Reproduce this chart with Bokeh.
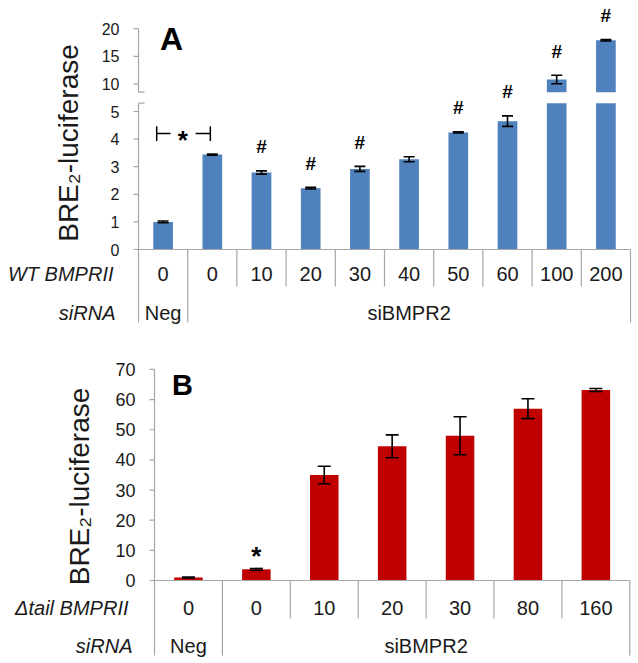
import math
from bokeh.plotting import figure
from bokeh.models import ColumnDataSource, Range1d, Whisker, TeeHead
from bokeh.layouts import column
from bokeh.embed import file_html
from bokeh.resources import INLINE
from bokeh.core.properties import value

FONT = "Liberation Sans"
TXT = "#1a1a1a"
AX = "#a6a6a6"
BLUE = "#4f81bd"
RED = "#c00000"

# ---------------- Panel A data ----------------
A_dose = ["0", "0", "10", "20", "30", "40", "50", "60", "100", "200"]
A_sirna = ["Neg"] + ["siBMPR2"] * 9
A_val = [1.0, 3.44, 2.79, 2.22, 2.92, 3.27, 4.24, 4.65, 10.8, 17.9]
A_err = [0.03, 0.02, 0.06, 0.03, 0.09, 0.09, 0.02, 0.19, 0.76, 0.12]
A_sig = ["", "", "#", "#", "#", "", "#", "#", "#", "#"]
A_low_ticks = [0, 1, 2, 3, 4, 5]
A_high_ticks = [10, 15, 20]

# ---------------- Panel B data ----------------
B_dose = ["0", "0", "10", "20", "30", "80", "160"]
B_sirna = ["Neg"] + ["siBMPR2"] * 6
B_val = [1.0, 3.7, 35.0, 44.5, 48.0, 57.0, 63.2]
B_err = [0.15, 0.3, 2.9, 3.8, 6.3, 3.3, 0.5]
B_sig = ["", "*", "", "", "", "", ""]
B_ticks = [0, 10, 20, 30, 40, 50, 60, 70]

# broken-axis mapping for panel A (display units = lower scale)
BREAK_LO, BREAK_HI = 5.3, 5.7
UP_BASE, UP_POS, UP_STEP = 10.0, 6.0, 5.0


def disp_to_up(d):
    return UP_BASE + UP_STEP * (d - UP_POS)


def up_to_disp(v):
    return UP_POS + (v - UP_BASE) / UP_STEP


def make_fig(width, height, axis_px, xppu, zero_px, yppu):
    xr = Range1d(-0.5 - axis_px / xppu, -0.5 + (width - axis_px) / xppu)
    yr = Range1d(-(height - zero_px) / yppu, zero_px / yppu)
    p = figure(width=width, height=height, x_range=xr, y_range=yr, output_backend="svg",
               toolbar_location=None, x_axis_location=None, y_axis_location=None, min_border=0)
    p.xgrid.visible = False
    p.ygrid.visible = False
    p.outline_line_color = None
    p.background_fill_color = "white"
    p.border_fill_color = "white"
    return p


def txt(p, x, y, t, size, style="normal", align="center", color=TXT, angle=0.0, **kw):
    p.text(x=x, y=y, text=t, text_font=value(FONT), text_font_size=size, text_font_style=style,
           text_color=color, text_align=align, text_baseline="middle", angle=angle, **kw)


def y_axis(p, xppu, tick_pos, tick_lbl, lines, font_size, label_gap):
    # axis line pieces
    p.segment(x0=[-0.5] * len(lines), y0=[a for a, b in lines], x1=[-0.5] * len(lines),
              y1=[b for a, b in lines], line_color=AX, line_width=1.2)
    # tick marks (outside)
    n = len(tick_pos)
    p.segment(x0=[-0.5] * n, y0=tick_pos, x1=[-0.5 - 5 / xppu] * n, y1=tick_pos,
              line_color=AX, line_width=1.2)
    txt(p, [-0.5 - label_gap / xppu] * n, tick_pos, tick_lbl, font_size, align="right")


def table(p, doses, sirna, xppu, yppu, row1_px, row2_px, short_px, long_px, lbl1, lbl2, lbl1_gap, lbl2_gap):
    n = len(doses)
    xs = list(range(n))
    p.segment(x0=[-0.5], y0=[0], x1=[n - 0.5], y1=[0], line_color=AX, line_width=1.2)
    txt(p, xs, [-row1_px / yppu] * n, doses, "20px")
    sx, sy1 = [], []
    for i in range(n):
        long_ = (i == n - 1) or sirna[i] != sirna[i + 1]
        sx.append(i + 0.5)
        sy1.append(-(long_px if long_ else short_px) / yppu)
    p.segment(x0=sx, y0=[0] * n, x1=sx, y1=sy1, line_color=AX, line_width=1.2)
    groups = []
    for i, g in enumerate(sirna):
        if groups and groups[-1][0] == g:
            groups[-1][1].append(i)
        else:
            groups.append((g, [i]))
    gx = [sum(ix) / len(ix) for g, ix in groups]
    gt = [g for g, ix in groups]
    txt(p, gx, [-row2_px / yppu] * len(gx), gt, "20px")
    # row labels
    txt(p, [-0.5 - lbl1_gap / xppu], [-row1_px / yppu], [lbl1], "20px", style="italic", align="right")
    txt(p, [-0.5 - lbl2_gap / xppu], [-row2_px / yppu], [lbl2], "20px", style="italic", align="right")


# ================= Panel A =================
XA, YA = 49.2, 27.6
pA = make_fig(636, 333, 138, XA, 249, YA)
pA.extra_y_ranges = {"up": Range1d(disp_to_up(pA.y_range.start), disp_to_up(pA.y_range.end))}

xA = list(range(len(A_val)))
low = [i for i in xA if A_val[i] <= 5]
high = [i for i in xA if A_val[i] > 5]

pA.vbar(x=[xA[i] for i in low], top=[A_val[i] for i in low], width=0.4, bottom=0,
        fill_color=BLUE, line_color=None)
pA.vbar(x=[xA[i] for i in high], top=[A_val[i] for i in high], width=0.4,
        bottom=disp_to_up(0), fill_color=BLUE, line_color=None, y_range_name="up")
# white gap of the broken axis
pA.quad(left=[-0.45], right=[pA.x_range.end], bottom=[BREAK_LO], top=[BREAK_HI],
        fill_color="white", line_color=None)

a_pos = A_low_ticks + [up_to_disp(v) for v in A_high_ticks]
a_lbl = [str(v) for v in A_low_ticks + A_high_ticks]
y_axis(pA, XA, a_pos, a_lbl, [(-73 / YA, BREAK_LO), (BREAK_HI, up_to_disp(A_high_ticks[-1]))],
       "16px", 19)
# break dashes
pA.segment(x0=[-0.5, -0.5], y0=[BREAK_LO, BREAK_HI], x1=[-0.5 + 6 / XA] * 2, y1=[BREAK_LO, BREAK_HI],
           line_color=AX, line_width=1.2)

srcAl = ColumnDataSource(dict(x=[xA[i] for i in low], up=[A_val[i] + A_err[i] for i in low],
                              lo=[A_val[i] - A_err[i] for i in low]))
srcAh = ColumnDataSource(dict(x=[xA[i] for i in high], up=[A_val[i] + A_err[i] for i in high],
                              lo=[A_val[i] - A_err[i] for i in high]))
for src, rn in ((srcAl, "default"), (srcAh, "up")):
    pA.add_layout(Whisker(source=src, base="x", upper="up", lower="lo", line_color="black",
                          line_width=1.6, level="annotation",
                          upper_head=TeeHead(size=11, line_color="black", line_width=1.6),
                          lower_head=TeeHead(size=11, line_color="black", line_width=1.6),
                          y_range_name=rn))

sl = [i for i in low if A_sig[i]]
sh = [i for i in high if A_sig[i]]
txt(pA, [xA[i] for i in sl], [A_val[i] + A_err[i] for i in sl], [A_sig[i] for i in sl], "19px",
    style="bold", color="black", y_offset=-24)
txt(pA, [xA[i] for i in sh], [A_val[i] + A_err[i] for i in sh], [A_sig[i] for i in sh], "19px",
    style="bold", color="black", y_offset=-24, y_range_name="up")

# significance bracket Neg vs siBMPR2-0
brx = [-0.13, 0.96]
bry, brh = 4.2, 0.27
pA.segment(x0=[brx[0], 0.66, brx[0], brx[1]], y0=[bry, bry, bry - brh, bry - brh],
           x1=[0.15, brx[1], brx[0], brx[1]], y1=[bry, bry, bry + brh, bry + brh],
           line_color="black", line_width=1.5)
txt(pA, [0.40], [3.98], ["*"], "26px", style="bold", color="black")
txt(pA, [0.17], [7.64], ["A"], "32px", style="bold", color="black")

table(pA, A_dose, A_sirna, XA, YA, 24, 63, 37, 73, "WT BMPRII", "siRNA", 25, 23)
txt(pA, [-0.5 - 70 / XA], [(249 - 142.5) / YA], ["BRE\u2082-luciferase"], "28px", angle=math.pi / 2)

# ================= Panel B =================
XB, YB = 67.9, 3.015
pB = make_fig(636, 327, 154, XB, 247, YB)

xB = list(range(len(B_val)))
pB.vbar(x=xB, top=B_val, width=0.42, bottom=0, fill_color=RED, line_color=None)
y_axis(pB, XB, B_ticks, [str(v) for v in B_ticks], [(-75 / YB, B_ticks[-1])], "18px", 19)

srcB = ColumnDataSource(dict(x=xB, up=[v + e for v, e in zip(B_val, B_err)],
                             lo=[v - e for v, e in zip(B_val, B_err)]))
pB.add_layout(Whisker(source=srcB, base="x", upper="up", lower="lo", line_color="black",
                      line_width=1.6, level="annotation",
                      upper_head=TeeHead(size=13, line_color="black", line_width=1.6),
                      lower_head=TeeHead(size=13, line_color="black", line_width=1.6)))
sb = [i for i in xB if B_sig[i]]
txt(pB, [xB[i] for i in sb], [B_val[i] + B_err[i] for i in sb], [B_sig[i] for i in sb], "26px",
    style="bold", color="black", y_offset=-12)
txt(pB, [-0.087], [64.7], ["B"], "29px", style="bold", color="black")

table(pB, B_dose, B_sirna, XB, YB, 27, 65, 38, 75, "\u0394tail BMPRII", "siRNA", 26, 22)
txt(pB, [-0.5 - 75 / XB], [(247 - 153) / YB], ["BRE\u2082-luciferase"], "28px", angle=math.pi / 2)

layout = column(pA, pB)
open("out.html", "w").write(file_html(layout, INLINE))
